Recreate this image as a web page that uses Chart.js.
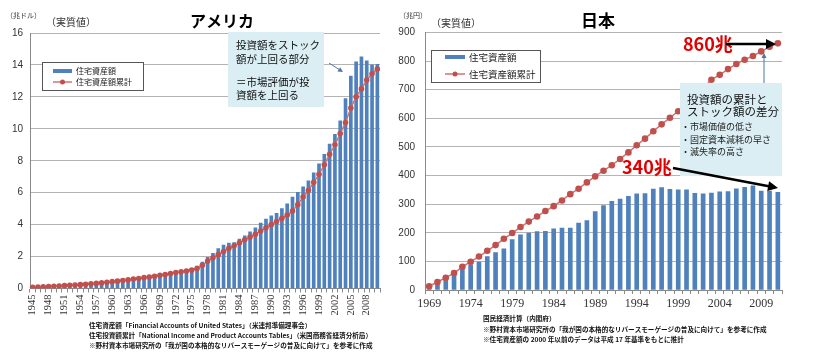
<!DOCTYPE html>
<html>
<head>
<meta charset="utf-8">
<script src="https://cdn.jsdelivr.net/npm/chart.js@4.4.1/dist/chart.umd.min.js"></script>
<style>
body{margin:0;width:820px;height:352px;background:#fff;position:relative;overflow:hidden}
#usChart{position:absolute;left:0;top:0}
#jpChart{position:absolute;left:395px;top:0}
</style>
</head>
<body>
<canvas id="usChart" width="395" height="352"></canvas>
<canvas id="jpChart" width="425" height="352"></canvas>
<script>
// ---- USA (兆ドル) ----
const usYears = [1945,1946,1947,1948,1949,1950,1951,1952,1953,1954,1955,1956,1957,1958,1959,1960,1961,1962,1963,1964,1965,1966,1967,1968,1969,1970,1971,1972,1973,1974,1975,1976,1977,1978,1979,1980,1981,1982,1983,1984,1985,1986,1987,1988,1989,1990,1991,1992,1993,1994,1995,1996,1997,1998,1999,2000,2001,2002,2003,2004,2005,2006,2007,2008,2009,2010];
const usTickYears = [1945,1948,1951,1954,1957,1960,1963,1966,1969,1972,1975,1978,1981,1984,1987,1990,1993,1996,1999,2002,2005,2008];
const usStock = [0.04,0.06,0.08,0.1,0.12,0.14,0.16,0.18,0.2,0.22,0.24,0.26,0.28,0.3,0.33,0.36,0.4,0.44,0.49,0.54,0.59,0.64,0.69,0.75,0.81,0.87,0.94,1.02,1.1,1.15,1.22,1.4,1.65,1.95,2.2,2.5,2.72,2.84,2.88,3.1,3.3,3.55,3.8,4.1,4.35,4.55,4.7,5.0,5.3,5.72,6.02,6.36,6.74,7.24,7.8,8.4,9.05,9.65,10.5,11.9,13.3,14.2,14.5,14.25,14.0,14.04];
const usCumul = [0.07,0.09,0.1,0.12,0.14,0.16,0.18,0.2,0.22,0.24,0.27,0.3,0.32,0.35,0.39,0.43,0.46,0.5,0.54,0.59,0.63,0.68,0.72,0.77,0.83,0.88,0.94,1.0,1.05,1.1,1.16,1.25,1.45,1.72,1.92,2.12,2.32,2.52,2.68,2.86,3.05,3.22,3.4,3.6,3.8,4.0,4.2,4.4,4.6,4.85,5.25,5.73,6.15,6.65,7.15,7.75,8.4,9.0,9.7,10.4,11.3,12.0,12.5,13.05,13.45,13.75];

// ---- Japan (兆円) ----
const jpYears = [1969,1970,1971,1972,1973,1974,1975,1976,1977,1978,1979,1980,1981,1982,1983,1984,1985,1986,1987,1988,1989,1990,1991,1992,1993,1994,1995,1996,1997,1998,1999,2000,2001,2002,2003,2004,2005,2006,2007,2008,2009,2010,2011];
const jpTickYears = [1969,1974,1979,1984,1989,1994,1999,2004,2009];
const jpStock = [10,22,36,51,71,88,98,117,131,144,176,193,199,204,205,214,216,216,234,243,274,295,310,318,327,336,337,353,358,352,350,350,338,336,339,343,344,354,359,364,346,346,341];
const jpCumul = [13,28,43,59,81,99,117,137,157,179,199,220,239,257,276,293,313,335,354,376,397,417,436,458,481,506,529,555,579,602,625,650,678,706,735,752,772,790,805,818,834,850,862];

const seriesNames = ["住宅資産額","住宅資産額累計"];
const BLUE = "#4F81BD", RED = "#C0504D", LINE_RED = "#D27370";
const JP = '"Noto Sans CJK JP", sans-serif';

function arrow(ctx,x1,y1,x2,y2,w,head,color){
  const a = Math.atan2(y2-y1,x2-x1);
  ctx.save();
  ctx.strokeStyle = color; ctx.fillStyle = color; ctx.lineWidth = w;
  ctx.beginPath(); ctx.moveTo(x1,y1);
  ctx.lineTo(x2-head*0.8*Math.cos(a), y2-head*0.8*Math.sin(a)); ctx.stroke();
  ctx.beginPath(); ctx.moveTo(x2,y2);
  ctx.lineTo(x2-head*Math.cos(a)+head*0.5*Math.sin(a), y2-head*Math.sin(a)-head*0.5*Math.cos(a));
  ctx.lineTo(x2-head*Math.cos(a)-head*0.5*Math.sin(a), y2-head*Math.sin(a)+head*0.5*Math.cos(a));
  ctx.closePath(); ctx.fill();
  ctx.restore();
}

function text(ctx,str,x,y,font,color,align){
  ctx.font = font; ctx.fillStyle = color || "#000";
  ctx.textAlign = align || "left"; ctx.textBaseline = "middle";
  ctx.fillText(str,x,y);
}

function legendBox(ctx,x,y,w,h,row1,row2,size,sw){
  ctx.save();
  ctx.fillStyle = "#fff"; ctx.fillRect(x,y,w,h);
  ctx.strokeStyle = "#555"; ctx.lineWidth = 1; ctx.strokeRect(x+0.5,y+0.5,w,h);
  ctx.fillStyle = BLUE; ctx.fillRect(x+sw[0], row1-2, sw[1], 4);
  ctx.strokeStyle = LINE_RED; ctx.lineWidth = 1.5;
  ctx.beginPath(); ctx.moveTo(x+sw[0],row2); ctx.lineTo(x+sw[0]+sw[1],row2); ctx.stroke();
  ctx.fillStyle = RED; ctx.beginPath(); ctx.arc(x+sw[0]+sw[1]/2,row2,2.5,0,Math.PI*2); ctx.fill();
  text(ctx,seriesNames[0],x+sw[0]+sw[1]+4,row1,size+"px "+JP,"#222");
  text(ctx,seriesNames[1],x+sw[0]+sw[1]+4,row2,size+"px "+JP,"#222");
  ctx.restore();
}

const usDecor = {
  id:"usDecor",
  afterDraw(chart){
    const ctx = chart.ctx;
    ctx.save();
    text(ctx,"（兆ドル）",6,15,"7px "+JP,"#333");
    text(ctx,"（実質値）",46,22,"10px "+JP,"#333");
    text(ctx,"アメリカ",222,21,"bold 16px "+JP,"#000","center");
    legendBox(ctx,42,62,101,28,71,82,8,[11,19]);
    ctx.fillStyle = "#DAEEF3"; ctx.fillRect(228,32,96,75);
    text(ctx,"投資額をストック",236,45,"10.5px "+JP,"#111");
    text(ctx,"額が上回る部分",236,59,"10.5px "+JP,"#111");
    text(ctx,"＝市場評価が投",236,82,"10.5px "+JP,"#111");
    text(ctx,"資額を上回る",236,95,"10.5px "+JP,"#111");
    arrow(ctx,329,63,343,72,1,5,"#4A76A8");
    const nf = "bold 6.6px "+JP;
    text(ctx,"住宅資産額「Financial Accounts of United States」（米連邦準備理事会）",89,325,nf,"#111");
    text(ctx,"住宅投資額累計「National Income and Product Accounts Tables」（米国商務省経済分析局）",89,335,nf,"#111");
    text(ctx,"※野村資本市場研究所の「我が国の本格的なリバースモーゲージの普及に向けて」を参考に作成",89,345,nf,"#111");
    ctx.restore();
  }
};

const jpDecor = {
  id:"jpDecor",
  afterDraw(chart){
    const ctx = chart.ctx;
    ctx.save();
    text(ctx,"（兆円）",4,15,"7px "+JP,"#333");
    text(ctx,"（実質値）",36,23,"10px "+JP,"#333");
    text(ctx,"日本",203,21,"bold 17px "+JP,"#000","center");
    legendBox(ctx,36,50,109,32,57,74,9.5,[14,20]);
    ctx.fillStyle = "#DAEEF3"; ctx.fillRect(285,83,102,93);
    text(ctx,"投資額の累計と",292,100,"11.5px "+JP,"#111");
    text(ctx,"ストック額の差分",292,112,"11.5px "+JP,"#111");
    text(ctx,"・市場価値の低さ",286,127,"9px "+JP,"#222");
    text(ctx,"・固定資本減耗の早さ",286,140,"9px "+JP,"#222");
    text(ctx,"・滅失率の高さ",286,152,"9px "+JP,"#222");
    arrow(ctx,369,83,369,53,1,5,"#4A76A8");
    text(ctx,"860兆",288,44,"bold 18px "+JP,"#E00000");
    arrow(ctx,331,44,381,44,2.5,10,"#000");
    text(ctx,"340兆",227,167,"bold 18px "+JP,"#E00000");
    arrow(ctx,278,168,383,188,2.5,10,"#000");
    const nf = "bold 6.6px "+JP;
    text(ctx,"国民経済計算（内閣府）",88,318,nf,"#111");
    text(ctx,"※野村資本市場研究所の「我が国の本格的なリバースモーゲージの普及に向けて」を参考に作成",88,329,nf,"#111");
    text(ctx,"※住宅資産額の 2000 年以前のデータは平成 17 年基準をもとに推計",88,339,nf,"#111");
    ctx.restore();
  }
};

function makeChart(id,years,tickYears,stock,cumul,cfg){
  return new Chart(document.getElementById(id),{
    type:"bar",
    data:{
      labels: years.map(String),
      datasets:[
        {type:"line",label:seriesNames[1],data:cumul,order:0,
          borderColor:LINE_RED,borderWidth:1.5,pointRadius:cfg.pointR,
          pointBackgroundColor:RED,pointBorderWidth:0,tension:0},
        {type:"bar",label:seriesNames[0],data:stock,order:1,
          backgroundColor:BLUE,barThickness:cfg.barW}
      ]
    },
    options:{
      responsive:false,
      animation:false,
      layout:{padding:cfg.padding},
      plugins:{legend:{display:false},tooltip:{enabled:false}},
      scales:{
        x:{
          grid:{display:true,drawOnChartArea:false,tickLength:4,color:"#8a8a8a"},
          border:{color:"#8a8a8a"},
          ticks:{autoSkip:false,maxRotation:cfg.rot,minRotation:cfg.rot,padding:cfg.xPad,color:"#333",
            font:{family:"Liberation Serif",size:cfg.xFont},
            callback(v,i){ return tickYears.includes(years[i]) ? String(years[i]) : ""; }},
          afterFit(s){ s.height = cfg.xH; }
        },
        y:{
          min:0,max:cfg.yMax,
          grid:{color:"#b4b4b4",drawTicks:false},
          border:{color:"#8a8a8a"},
          ticks:{stepSize:cfg.yStep,padding:cfg.yPad,color:"#333",font:{family:"Liberation Sans",size:10}},
          afterFit(s){ s.width = 30; }
        }
      }
    },
    plugins:[cfg.decor]
  });
}

makeChart("usChart",usYears,usTickYears,usStock,usCumul,{
  pointR:2.8,barW:3,rot:90,xPad:2,xFont:10.5,xH:36,yMax:16,yStep:2,yPad:7,
  padding:{left:0,right:15,top:33,bottom:27.5},decor:usDecor});
makeChart("jpChart",jpYears,jpTickYears,jpStock,jpCumul,{
  pointR:3.3,barW:4,rot:0,xPad:3,xFont:12,xH:24,yMax:900,yStep:100,yPad:10,
  padding:{left:0,right:38,top:32.5,bottom:38},decor:jpDecor});
</script>
</body>
</html>
